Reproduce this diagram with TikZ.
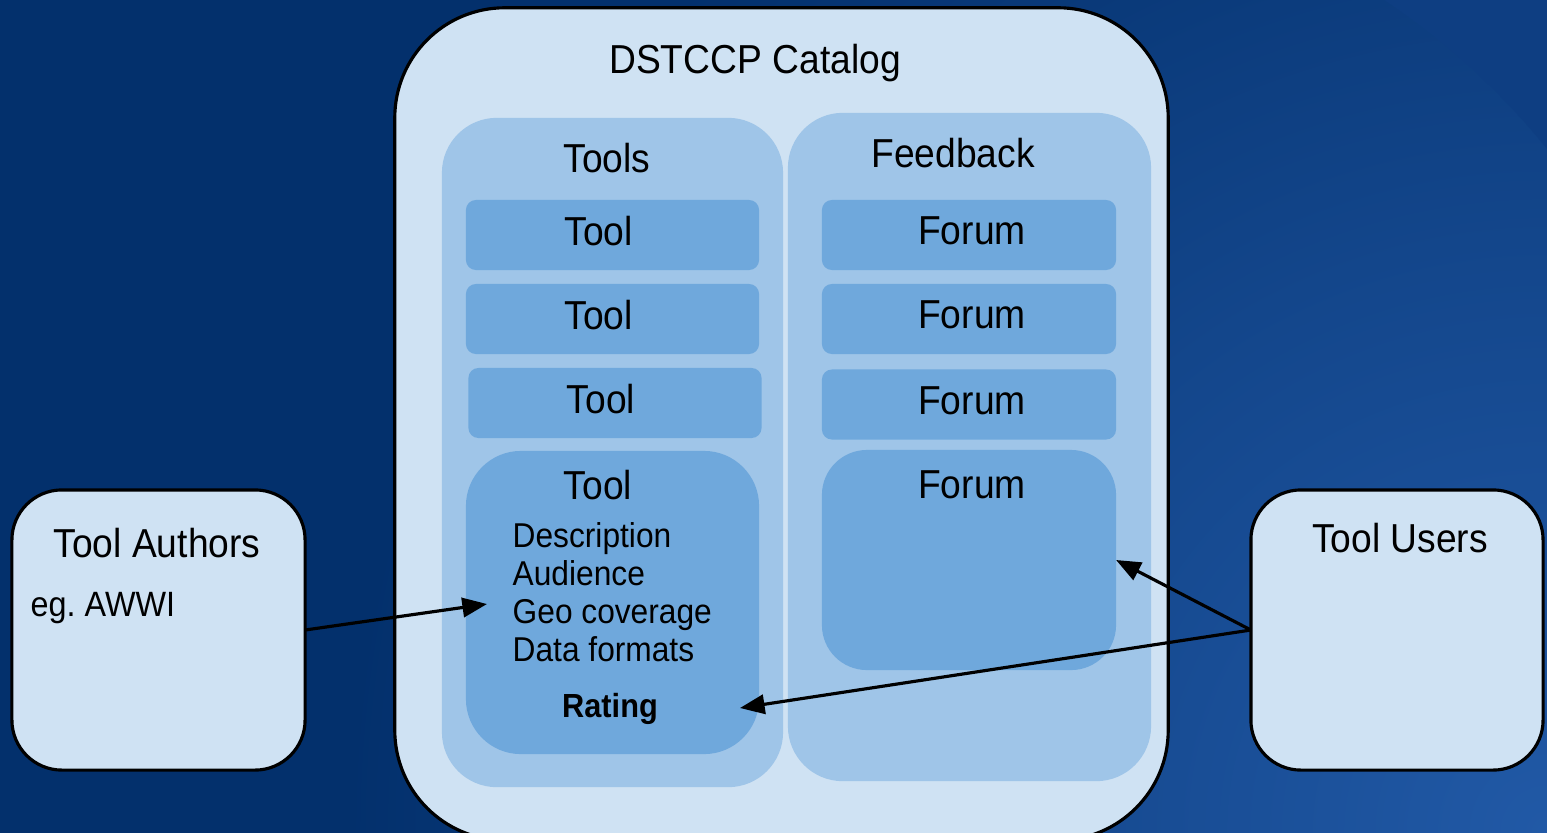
\documentclass[tikz,border=0pt]{standalone}
\usepackage{fontspec}
\setmainfont{Liberation Sans}[FakeStretch=0.92]
\usetikzlibrary{arrows.meta}

\definecolor{fondo}{HTML}{03306C}
\definecolor{fondoclaro}{HTML}{0E3E82}
\definecolor{fondoabajo}{HTML}{2159A6}
\definecolor{caja}{HTML}{CFE2F3}
\definecolor{panel}{HTML}{9FC5E8}
\definecolor{azulitem}{HTML}{6FA8DC}

\pgfdeclareradialshading{esquina}{\pgfpoint{0bp}{0bp}}{color(0bp)=(fondoabajo); color(12bp)=(fondoabajo!55!fondo); color(25bp)=(fondo); color(50bp)=(fondo)}

\begin{document}
\begin{tikzpicture}[x=0.01cm,y=-0.01cm,
	caja/.style={draw=black,line width=0.9pt,fill=caja,inner sep=0pt,outer sep=0pt},
	panel/.style={fill=panel,inner sep=0pt,outer sep=0pt,rounded corners=0.55cm},
	itemb/.style={fill=azulitem,inner sep=0pt,outer sep=0pt,rounded corners=0.1cm,minimum width=2.93cm,minimum height=0.7cm},
	titulo/.style={inner sep=0pt,font=\fontsize{11.5}{13}\selectfont},
	lista/.style={inner sep=0pt,align=left,font=\fontsize{9.8}{10.8}\selectfont},
	flecha/.style={line width=0.9pt,-{Triangle[length=7pt,width=5.5pt]}}]

			% Fondo
			\useasboundingbox (0,0) rectangle (1547,832);
			\begin{scope}
				\clip (-5,-5) rectangle (1552,837);
				\fill[fondo] (-5,-5) rectangle (1552,837);
				\shade[shading=esquina] (1547,832) circle[radius=12cm];
			\end{scope}
			\begin{scope}
				\clip (1000,-5) rectangle (1552,500);
				\fill[fondoclaro,even odd rule] (990,-50) rectangle (1600,510) (983,602) circle[radius=7.23cm];
			\end{scope}

			% Catalogo
			\node[caja,minimum width=7.73cm,minimum height=8.32cm,rounded corners=1.1cm] (catalogo) at (781.5,424) {};
			\node[titulo] (tcatalogo) at (755,63) {DSTCCP Catalog};

			\node[panel,minimum width=3.41cm,minimum height=6.69cm] (tools) at (612.5,452.5) {};
			\node[panel,minimum width=3.63cm,minimum height=6.68cm] (feedback) at (969.5,447) {};
			\node[titulo] (ttools) at (607,158) {Tools};
			\node[titulo] (tfeedback) at (953,153) {Feedback};

			% Herramientas y foros
			\foreach \x/\y/\n in {612.5/235/1,612.5/319/2,615/403/3}{
				\node[itemb] (tool\n) at (\x,\y) {};
				\node[titulo] (ttool\n) at (\x-14,\y-4) {Tool};
			}
			\foreach \y/\n in {235/1,319/2,404.5/3}{
				\node[itemb,minimum width=2.94cm] (forum\n) at (969,\y) {};
				\node[titulo] (tforum\n) at (972,\y-4) {Forum};
			}

			\node[itemb,minimum height=3.03cm,rounded corners=0.55cm] (toolbig) at (612.5,602.5) {};
			\node[titulo] (ttoolbig) at (598,485) {Tool};
			\node[lista,anchor=west] (datos) at (512,592) {Description\\Audience\\Geo coverage\\Data formats};
			\node[lista,font=\fontsize{9.5}{10.8}\selectfont\bfseries] (rating) at (610,709) {Rating};

			\node[itemb,minimum width=2.94cm,minimum height=2.2cm,rounded corners=0.45cm] (forumbig) at (969,560) {};
			\node[titulo] (tforumbig) at (972,485) {Forum};

			% Autores y usuarios
			\node[caja,minimum width=2.93cm,minimum height=2.8cm,rounded corners=0.5cm] (autores) at (158.5,630) {};
			\node[titulo] (tautores) at (157,543) {Tool Authors};
			\node[lista,font=\fontsize{10}{12}\selectfont,anchor=west] (ejemplo) at (30,608) {eg.\ AWWI};

			\node[caja,minimum width=2.92cm,minimum height=2.8cm,rounded corners=0.5cm] (usuarios) at (1397,630) {};
			\node[titulo] (tusuarios) at (1400,538) {Tool Users};

			% Flechas
			\coordinate (entrada) at (487,604);
			\coordinate (salida) at (740,708);
			\draw[flecha] (autores.east) -- (entrada);
			\draw[flecha] (usuarios.west) -- (forumbig.east);
			\draw[flecha] (usuarios.west) -- (salida);

\end{tikzpicture}
\end{document}
